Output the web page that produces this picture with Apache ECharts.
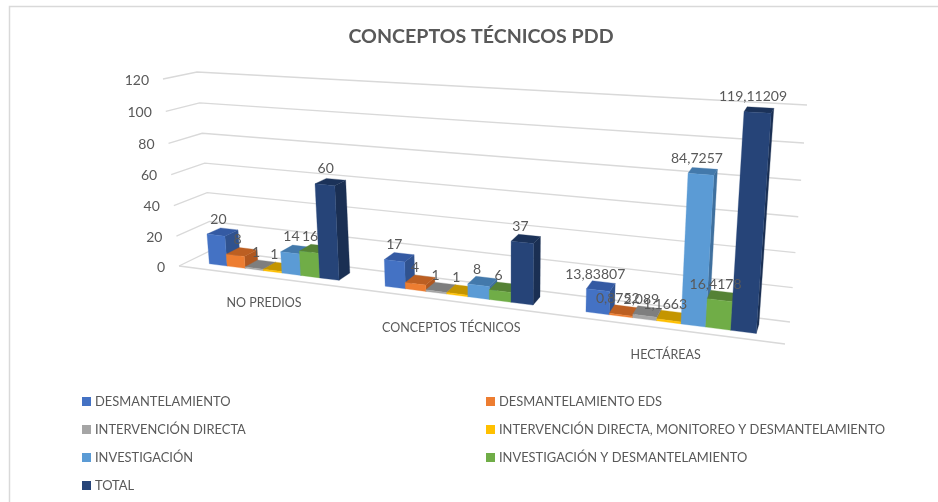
<!DOCTYPE html>
<html><head><meta charset="utf-8">
<style>html,body{margin:0;padding:0;background:#fff}#c{width:938px;height:502px}</style>
<script src="https://cdn.jsdelivr.net/npm/echarts@6/dist/echarts.min.js"></script>
</head><body><div id="c"></div>
<script>
const categories = ['NO PREDIOS', 'CONCEPTOS TÉCNICOS', 'HECTÁREAS'];
const yTicks = [0, 20, 40, 60, 80, 100, 120];
const desmantelamiento = [20, 17, 13.83807];
const desmantelamientoEds = [8, 4, 0.8752];
const intervencionDirecta = [1, 1, 2.089];
const intervencionMonitoreo = [1, 1, 1.1663];
const investigacion = [14, 8, 84.7257];
const investigacionDesmantelamiento = [16, 6, 16.4178];
const total = [60, 37, 119.11209];

const seriesDefs = [
  {name:'DESMANTELAMIENTO', values:desmantelamiento, front:'#4472C4', top:'#345AA3', side:'#30528F'},
  {name:'DESMANTELAMIENTO EDS', values:desmantelamientoEds, front:'#ED7D31', top:'#BC5F22', side:'#B05820'},
  {name:'INTERVENCIÓN DIRECTA', values:intervencionDirecta, front:'#A5A5A5', top:'#7E7E7E', side:'#747474'},
  {name:'INTERVENCIÓN DIRECTA, MONITOREO Y DESMANTELAMIENTO', values:intervencionMonitoreo, front:'#FFC000', top:'#C49500', side:'#B58900'},
  {name:'INVESTIGACIÓN', values:investigacion, front:'#5B9BD5', top:'#4379AB', side:'#3F709E'},
  {name:'INVESTIGACIÓN Y DESMANTELAMIENTO', values:investigacionDesmantelamiento, front:'#70AD47', top:'#558235', side:'#4F7A31'},
  {name:'TOTAL', values:total, front:'#264478', top:'#1B3259', side:'#1A2F53'}
];

// Perspective planes of the 3-D box: front and back wall corners [u0v0,u1v0,u1v1,u0v1]
const FRONT = [[179,266],[785,344],[802,117],[163,79]];
const BACK  = [[212,250],[790,322],[807,105],[197,72]];
const GRID = {left:100, top:100, width:600, height:240};
const WF = 0.30, WB = 0.72, GROUP = 0.75;

function squareToQuad(q){
  const [x0,y0]=q[0],[x1,y1]=q[1],[x2,y2]=q[2],[x3,y3]=q[3];
  const dx1=x1-x2,dx2=x3-x2,sx=x0-x1+x2-x3,dy1=y1-y2,dy2=y3-y2,sy=y0-y1+y2-y3;
  const den=dx1*dy2-dx2*dy1;
  const g=(sx*dy2-dx2*sy)/den,h=(dx1*sy-sx*dy1)/den;
  return {a:x1-x0+g*x1,b:x3-x0+h*x3,c:x0,d:y1-y0+g*y1,e:y3-y0+h*y3,f:y0,g,h};
}
const HF=squareToQuad(FRONT),HB=squareToQuad(BACK);
function hp(H,u,v){const k=H.g*u+H.h*v+1;return [(H.a*u+H.b*v+H.c)/k,(H.d*u+H.e*v+H.f)/k];}
function project(u,v,w){const a=hp(HF,u,v),b=hp(HB,u,v);return [a[0]+(b[0]-a[0])*w,a[1]+(b[1]-a[1])*w];}
// pixel in the (hidden) cartesian grid -> normalised box coordinates
const toU=px=>(px-GRID.left)/GRID.width;
const toV=py=>(GRID.top+GRID.height-py)/GRID.height;
const fmt=v=>String(v).replace('.',',');
const TEXT='#595959', FONT='Lato';

function barBox(si,api){
  const cx=api.coord([api.value(0),0]), top=api.coord([api.value(0),api.value(1)]);
  const band=api.size([1,0])[0], gw=band*GROUP, bw=gw/7;
  return {u0:toU(cx[0]-gw/2+si*bw),u1:toU(cx[0]-gw/2+(si+1)*bw),v0:toV(cx[1]),v1:toV(top[1])};
}
function barRender(si){
  return function(params,api){
    const {u0,u1,v0,v1}=barBox(si,api);
    const def=seriesDefs[si];
    const P=project;
    const poly=(pts,fill)=>({type:'polygon',shape:{points:pts},style:{fill,stroke:fill,lineWidth:0.3}});
    return {type:'group',children:[
      poly([P(u1,v0,WF),P(u1,v0,WB),P(u1,v1,WB),P(u1,v1,WF)],def.side),
      poly([P(u0,v1,WF),P(u1,v1,WF),P(u1,v1,WB),P(u0,v1,WB)],def.top),
      poly([P(u0,v0,WF),P(u1,v0,WF),P(u1,v1,WF),P(u0,v1,WF)],def.front)
    ]};
  };
}
function labelRender(si){
  return function(params,api){
    const {u0,u1,v1}=barBox(si,api);
    const um=(u0+u1)/2, ft=project(um,v1,WF);
    return {type:'text',x:ft[0]+3-8*um,y:ft[1]-16,
      style:{text:fmt(api.value(1)),fill:TEXT,font:'14px '+FONT,align:'center',verticalAlign:'middle'}};
  };
}

function wallRender(params,api){
  let floor=null;
  if(params.dataIndex===0){
    const a=project(0,0,0),b=project(1,0,0);
    floor={type:'line',shape:{x1:a[0],y1:a[1],x2:b[0],y2:b[1]},style:{stroke:'#D9D9D9',lineWidth:1.3}};
  }
  const v=toV(api.coord([0,api.value(1)])[1]);
  const f=project(0,v,0),b0=project(0,v,1),b1=project(1,v,1);
  const kids=[
    {type:'polyline',shape:{points:[f,b0,b1]},style:{stroke:'#D9D9D9',lineWidth:1.3,fill:'none'}},
    {type:'text',x:f[0]-14,y:f[1]+1,style:{text:String(api.value(1)),fill:TEXT,font:'14px '+FONT,align:'right',verticalAlign:'middle'}}
  ];
  if(floor)kids.push(floor);
  return {type:'group',children:kids};
}

function catRender(params,api){
  const c=api.coord([api.value(0),0]);
  const p=project(toU(c[0]),0,0);
  return {type:'text',x:p[0],y:p[1]+26.5,style:{text:categories[params.dataIndex],fill:TEXT,font:'12.5px '+FONT,align:'center',verticalAlign:'middle'}};
}

const series=[
  {type:'custom',name:'_walls',silent:true,clip:false,z:1,renderItem:wallRender,data:yTicks.map(t=>[0,t]),encode:{x:0,y:1}},
  {type:'custom',name:'_cats',silent:true,clip:false,z:1,renderItem:catRender,data:categories.map((c,i)=>[i]),encode:{x:0}}
];
seriesDefs.forEach((d,i)=>series.push({
  type:'custom',name:d.name,clip:false,z:2,itemStyle:{color:d.front},
  renderItem:barRender(i),data:d.values.map((v,k)=>[k,v]),encode:{x:0,y:1}
}));
seriesDefs.forEach((d,i)=>series.push({
  type:'custom',name:'_labels'+i,silent:true,clip:false,z:5,
  renderItem:labelRender(i),data:d.values.map((v,k)=>[k,v]),encode:{x:0,y:1}
}));

const legendBase={orient:'vertical',icon:'rect',itemWidth:9,itemHeight:9,itemGap:15,itemStyle:{borderWidth:0},
  textStyle:{color:TEXT,fontFamily:FONT,fontSize:12.9,padding:[0,0,0,-1]},selectedMode:false,padding:0};

const chart=echarts.init(document.getElementById('c'),null,{renderer:'canvas'});
chart.setOption({
  animation:false,backgroundColor:'#fff',
  title:{text:'CONCEPTOS TÉCNICOS PDD',left:476,top:32,textAlign:'center',textVerticalAlign:'middle',
    textStyle:{color:TEXT,fontFamily:FONT,fontWeight:'bold',fontSize:19.6}},
  legend:[
    Object.assign({},legendBase,{left:82,top:395,data:[0,2,4,6].map(i=>seriesDefs[i].name)}),
    Object.assign({},legendBase,{left:486,top:395,data:[1,3,5].map(i=>seriesDefs[i].name)})
  ],
  grid:GRID,
  xAxis:{type:'category',data:categories,show:false},
  yAxis:{type:'value',min:0,max:120,interval:20,show:false},
  graphic:[{type:'polyline',shape:{points:[[9.5,502],[9.5,6.5],[938,6.5]]},style:{stroke:'#D9D9D9',lineWidth:1.5,fill:'none'},silent:true}],
  series
});
</script></body></html>
